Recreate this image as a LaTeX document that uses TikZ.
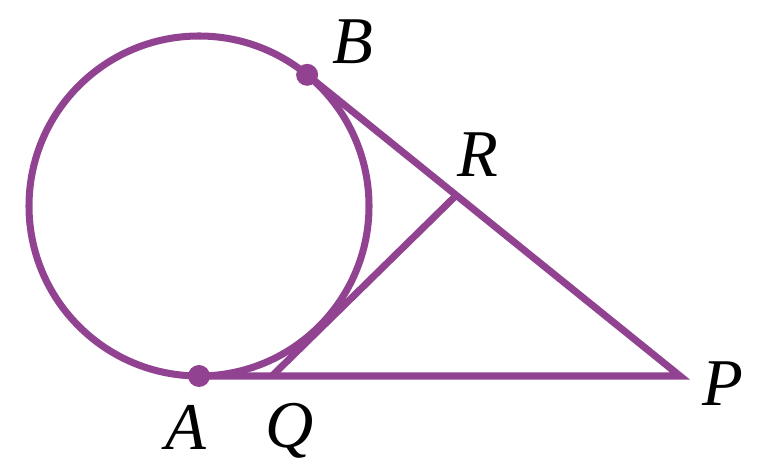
\documentclass[tikz,border=0pt]{standalone}
\usepackage{fontspec}
\setmainfont{Liberation Serif}
\usepackage{tikz}
\usetikzlibrary{calc}
\definecolor{violet}{RGB}{145,67,145}

\begin{document}
\begin{tikzpicture}[line width=4pt, line join=miter,
    lbl/.style={font=\fontsize{38}{44}\selectfont\itshape, inner sep=0pt, anchor=base}]
      \useasboundingbox (0,0) rectangle (15.36,9.5);
      % Circle and points:
      \coordinate (O) at (3.98,5.38);
      \coordinate (A) at ($(O)+(-90:3.4)$);
      \coordinate (B) at ($(O)+(50.5:3.4)$);
      \coordinate (P) at (13.6,1.98);
      \coordinate (Q) at (5.44,1.98);
      \coordinate (R) at ($(B)!0.4!(P)$);
      \draw[violet] (O) circle (3.4);
      % Tangents:
      \draw[violet] (B) -- (P) -- (A);
      \draw[violet] (Q) -- (R);
      \fill[violet] (A) circle (0.22) (B) circle (0.22);
      % Labels:
      \node[lbl] (la) at (3.72,0.5) {A};
      \node[lbl] (lb) at (7.06,8.22) {B};
      \node[lbl] (lp) at (14.46,1.38) {P};
      \node[lbl] (lq) at (5.8,0.54) {Q};
      \node[lbl] (lr) at (9.56,5.96) {R};
    \end{tikzpicture}
\end{document}
